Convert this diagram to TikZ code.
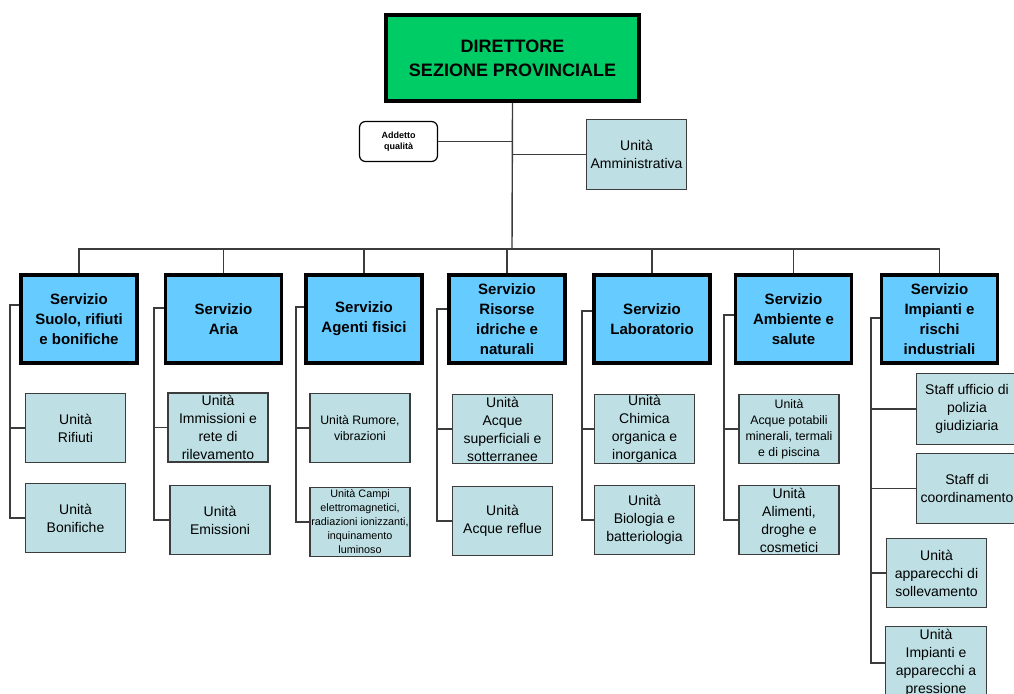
\documentclass[tikz,border=0pt]{standalone}
\usepackage{fontspec}
\setmainfont{Liberation Sans}
\definecolor{dirgreen}{RGB}{0,204,102}
\definecolor{servblue}{RGB}{102,204,255}
\definecolor{unitfill}{RGB}{190,224,228}
\definecolor{linegray}{RGB}{60,60,60}
\tikzset{
  conn/.style={draw=linegray, line width=1.4pt},
  dirbox/.style={draw=black, line width=3.6pt, fill=dirgreen, inner sep=0pt,
    minimum width=253pt, minimum height=86pt, align=center,
    font=\fontsize{18}{24}\selectfont\bfseries},
  servbox/.style={draw=black, line width=3.6pt, fill=servblue, inner sep=0pt,
    minimum width=116pt, minimum height=88pt, align=center,
    font=\fontsize{15}{20}\selectfont\bfseries},
  unitbox/.style={draw=linegray, line width=1.4pt, fill=unitfill, inner sep=0pt,
    minimum width=100pt, minimum height=69pt, align=center,
    font=\fontsize{14}{18}\selectfont},
  smalltext/.style={font=\fontsize{12.3}{16}\selectfont},
  tinytext/.style={font=\fontsize{10.8}{14}\selectfont},
  qualbox/.style={draw=black, line width=1.2pt, fill=white, rounded corners=6pt,
    inner sep=0pt, minimum width=78pt, minimum height=40pt, align=center,
    font=\fontsize{9}{11}\selectfont\bfseries}
}
\begin{document}
\begin{tikzpicture}[x=1pt, y=-1pt]
\useasboundingbox (0,0) rectangle (1014,693);
\clip (0,0) rectangle (1014,693);

% top level
\node[dirbox] (dir) at (512.5,58) {DIRETTORE\\SEZIONE PROVINCIALE};
\node[qualbox] (qual) at (398.5,141.5) {Addetto\\qualità};
\node[unitbox, minimum width=100pt, minimum height=70pt] (amm) at (636.5,154.5) {Unità\\Amministrativa};

% services
\node[servbox] (s1) at (79,319) {Servizio\\Suolo, rifiuti\\e bonifiche};
\node[servbox] (s2) at (223.5,319) {Servizio\\Aria};
\node[servbox] (s3) at (364,319) {Servizio\\Agenti fisici};
\node[servbox] (s4) at (507,319) {Servizio\\Risorse\\idriche e\\naturali};
\node[servbox] (s5) at (652,319) {Servizio\\Laboratorio};
\node[servbox] (s6) at (793.5,319) {Servizio\\Ambiente e\\salute};
\node[servbox] (s7) at (939.5,319) {Servizio\\Impianti e\\rischi\\industriali};

% units
\node[unitbox] (u1a) at (75.5,428) {Unità\\Rifiuti};
\node[unitbox] (u1b) at (75.5,518) {Unità\\Bonifiche};
\node[unitbox] (u2a) at (218,427.5) {Unità\\Immissioni e\\rete di\\rilevamento};
\node[unitbox] (u2b) at (220,520) {Unità\\Emissioni};
\node[unitbox, smalltext] (u3a) at (360,428) {Unità Rumore,\\vibrazioni};
\node[unitbox, tinytext] (u3b) at (360,522) {Unità Campi\\elettromagnetici,\\radiazioni ionizzanti,\\inquinamento\\luminoso};
\node[unitbox] (u4a) at (502.5,429) {Unità\\Acque\\superficiali e\\sotterranee};
\node[unitbox] (u4b) at (502.5,521) {Unità\\Acque reflue};
\node[unitbox] (u5a) at (644.5,429) {Unità\\Chimica\\organica e\\inorganica};
\node[unitbox] (u5b) at (644.5,520) {Unità\\Biologia e\\batteriologia};
\node[unitbox, smalltext] (u6a) at (789,429) {Unità\\Acque potabili\\minerali, termali\\e di piscina};
\node[unitbox] (u6b) at (789,520) {Unità\\Alimenti,\\droghe e\\cosmetici};
\node[unitbox, minimum width=101pt, minimum height=71pt] (u7a) at (967,409) {Staff ufficio di\\polizia\\giudiziaria};
\node[unitbox, minimum width=101pt, minimum height=70pt] (u7b) at (967,488.5) {Staff di\\coordinamento};
\node[unitbox] (u7c) at (936.5,573) {Unità\\apparecchi di\\sollevamento};
\node[unitbox, minimum width=101pt, minimum height=73pt] (u7d) at (936,663) {Unità\\Impianti e\\apparecchi a\\pressione};

% branch points
\coordinate (bus) at (512,249);
\coordinate (t1) at (10,305);
\coordinate (t2) at (154,308);
\coordinate (t3) at (296,307);
\coordinate (t4) at (437,309);
\coordinate (t5) at (582,311);
\coordinate (t6) at (724,315);
\coordinate (t7) at (871,318);

% director links
\draw[conn] (dir.south) -- (bus);
\draw[conn] (qual.east) -- (qual.east -| dir.south);
\draw[conn] (amm.west) -- (amm.west -| dir.south);
\foreach \s in {s1,s2,s3,s4,s5,s6,s7}
  \draw[conn] (bus) -| (\s.north);

% service trunks to units
\foreach \i in {1,...,6} {
  \draw[conn] (s\i.west |- t\i) -- (t\i) |- (u\i b.west);
  \draw[conn] (t\i |- u\i a.west) -- (u\i a.west);
}
\draw[conn] (s7.west |- t7) -- (t7) |- (u7d.west);
\draw[conn] (t7 |- u7a.west) -- (u7a.west);
\draw[conn] (t7 |- u7b.west) -- (u7b.west);
\draw[conn] (t7 |- u7c.west) -- (u7c.west);
\end{tikzpicture}
\end{document}
